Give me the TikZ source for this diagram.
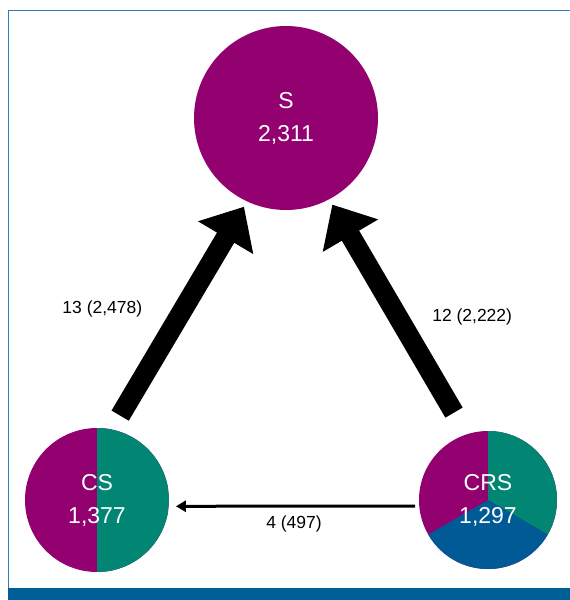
\documentclass[tikz,border=0pt]{standalone}
\usepackage{fontspec}
\setmainfont{Liberation Sans}
\usepackage{tikz}
\usepackage{xcolor}
\usetikzlibrary{arrows.meta}

\definecolor{plum}{HTML}{930070}
\definecolor{pieteal}{HTML}{008673}
\definecolor{pieblue}{HTML}{005A96}
\definecolor{frameblue}{HTML}{2E7DB8}
\definecolor{barblue}{HTML}{005F96}

\begin{document}
\begin{tikzpicture}[x=1pt, y=-1pt,
    circ/.style={circle, inner sep=0pt, fill=plum, text=white, align=center,
        font=\fontsize{23}{33}\selectfont},
    big/.style={line width=20pt, -{Triangle[length=36pt,width=62pt]}},
    thin/.style={line width=3pt, -{Triangle[length=10pt,width=11pt]}},
    lab/.style={font=\fontsize{17.5}{17.5}\selectfont}]
    \useasboundingbox (0, 0) rectangle (570, 600);

    % frame
    \fill [barblue] (8, 588) rectangle (570, 600);
    \draw [frameblue, line width=1.3pt] (8.75, 588) |- (570, 10.75);

    \path (286, 118) node [circ, minimum size=184pt] (s) {S\\2,311};
    \path (97, 500) node [circ, minimum size=144pt,
        path picture={\fill [pieteal] (path picture bounding box.north)
            rectangle (path picture bounding box.south east);}] (cs) {CS\\1,377};
    \path (488, 500) node [circ, minimum size=138pt,
        path picture={
            \coordinate (o) at (path picture bounding box.center);
            \fill [pieteal] (o) -- ([shift={(90:150pt)}]o) -- ([shift={(30:150pt)}]o)
                -- ([shift={(-30:150pt)}]o) -- cycle;
            \fill [pieblue] (o) -- ([shift={(-30:150pt)}]o) -- ([shift={(-90:150pt)}]o)
                -- ([shift={(-150:150pt)}]o) -- cycle;}] (crs) {CRS\\1,297};

    \draw [big, shorten <=16pt, shorten >=6pt] (cs.78) -- (s.245)
        node[pos=0.53, left=28pt, lab] {13 (2,478)};
    \draw [big, shorten <=25pt, shorten >=6pt] (crs.108) -- (s.298)
        node[pos=0.5, right=21pt, lab] {12 (2,222)};
    \draw [thin, shorten <=4pt, shorten >=7pt] (crs.185) -- (cs.355)
        node[midway, below=5pt, lab] {4 (497)};
\end{tikzpicture}
\end{document}
